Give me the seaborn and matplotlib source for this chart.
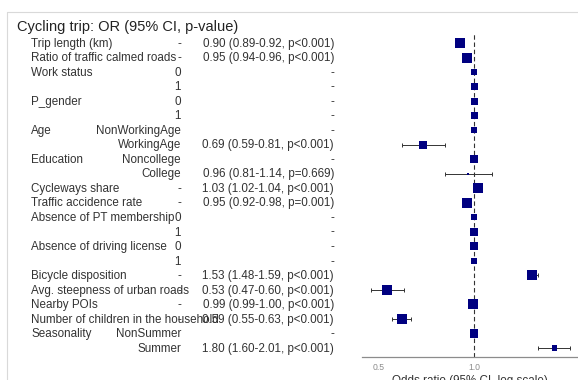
import numpy as np
import matplotlib
matplotlib.use("Agg")
import matplotlib.pyplot as plt
import matplotlib.transforms as mtransforms
from matplotlib.lines import Line2D
import pandas as pd
import seaborn as sns

# ---- data ---------------------------------------------------------------
labels = ["Trip length (km)", "Ratio of traffic calmed roads", "Work status", "",
          "P_gender", "", "Age", "", "Education", "", "Cycleways share",
          "Traffic accidence rate", "Absence of PT membership", "",
          "Absence of driving license", "", "Bicycle disposition",
          "Avg. steepness of urban roads", "Nearby POIs",
          "Number of children in the household", "Seasonality", ""]
levels = ["-", "-", "0", "1", "0", "1", "NonWorkingAge", "WorkingAge",
          "Noncollege", "College", "-", "-", "0", "1", "0", "1",
          "-", "-", "-", "-", "NonSummer", "Summer"]
odds = [0.90, 0.95, 1, 1, 1, 1, 1, 0.69, 1, 0.96, 1.03, 0.95,
        1, 1, 1, 1, 1.53, 0.53, 0.99, 0.59, 1, 1.80]
ci_low = [0.89, 0.94, None, None, None, None, None, 0.59, None, 0.81, 1.02, 0.92,
          None, None, None, None, 1.48, 0.47, 0.99, 0.55, None, 1.60]
ci_high = [0.92, 0.96, None, None, None, None, None, 0.81, None, 1.14, 1.04, 0.98,
           None, None, None, None, 1.59, 0.60, 1.00, 0.63, None, 2.01]
p_text = ["<0.001", "<0.001", None, None, None, None, None, "<0.001", None, "=0.669",
          "<0.001", "=0.001", None, None, None, None, "<0.001", "<0.001", "<0.001",
          "<0.001", None, "<0.001"]
# relative weight of each estimate (drives the square size)
weight = [10, 10, 6, 7, 7, 7, 6, 8, 8.5, 2, 9.5, 10, 6, 8, 7.7, 6,
          10, 10, 10, 10, 8.7, 5.3]

# ---- table --------------------------------------------------------------
df = pd.DataFrame({"label": labels, "level": levels, "OR": odds,
                   "lo": ci_low, "hi": ci_high, "p": p_text, "w": weight})
df["row"] = np.arange(1, len(df) + 1)
df["lo"] = df["lo"].astype(float)
df["hi"] = df["hi"].astype(float)


def fmt(r):
    if r["p"] is None:
        return "-"
    return f"{r['OR']:.2f} ({r['lo']:.2f}-{r['hi']:.2f}, p{r['p']})"


df["txt"] = df.apply(fmt, axis=1)

# ---- figure -------------------------------------------------------------
sns.set_style("white")
plt.rcParams["font.family"] = ["Liberation Sans", "DejaVu Sans"]

W, H = 578, 380
fig = plt.figure(figsize=(W / 100, H / 100), dpi=100)
fig.patch.set_facecolor("white")

# light frame along the top and left edges
fig.add_artist(Line2D([7 / W, 7 / W], [0, 1 - 12 / H], transform=fig.transFigure,
                      color="#d9d9d9", lw=0.8))
fig.add_artist(Line2D([7 / W, 1], [1 - 12 / H, 1 - 12 / H], transform=fig.transFigure,
                      color="#d9d9d9", lw=0.8))

ax_left, ax_right = 362, 578
ax_top, ax_bot = 33, 357
ax = fig.add_axes([ax_left / W, 1 - ax_bot / H, (ax_right - ax_left) / W,
                   (ax_bot - ax_top) / H])
ax.set_facecolor("none")

navy = "#000080"
ci = df.dropna(subset=["lo"])
ax.errorbar(ci["OR"], ci["row"],
            xerr=[ci["OR"] - ci["lo"], ci["hi"] - ci["OR"]],
            fmt="none", ecolor="#333333", elinewidth=0.7, capsize=1.6,
            capthick=0.7, zorder=2)
sns.scatterplot(data=df, x="OR", y="row", marker="s", color=navy,
                s=(df["w"] * 0.72) ** 2, linewidth=0, ax=ax, zorder=3,
                legend=False)
ax.axvline(1.0, color="#333333", lw=0.8, ls=(0, (4, 2.5)), zorder=1)

ax.set_xscale("log")
px_per_log = 95 / np.log(2)
ax.set_xlim(np.exp(np.log(0.5) - (379 - ax_left) / px_per_log),
            np.exp((ax_right - 474) / px_per_log))
step = (348 - 43) / 21
ax.set_ylim(22 + (ax_bot - 348) / step, 1 - (43 - ax_top) / step)

ax.set_xticks([0.5, 1.0])
ax.set_xticklabels(["0.5", "1.0"])
ax.minorticks_off()
ax.set_yticks([])
ax.set_ylabel("")
for s in ["left", "top", "right"]:
    ax.spines[s].set_visible(False)
ax.spines["bottom"].set_color("#8c8c8c")
ax.spines["bottom"].set_linewidth(0.9)
ax.tick_params(axis="x", length=2, width=0.6, color="#8c8c8c", pad=2,
               labelsize=6.2, labelcolor="#8c8c8c")
ax.set_xlabel("Odds ratio (95% CI, log scale)", fontsize=8.4, color="#333333",
              labelpad=2.5)

# ---- text columns -------------------------------------------------------
tr = mtransforms.blended_transform_factory(fig.transFigure, ax.transData)
txt_col = "#333333"
fs_lab, fs_val = 8.4, 8.4
for _, r in df.iterrows():
    ax.text(31 / W, r["row"] + 0.05, r["label"], transform=tr, ha="left",
            va="center", fontsize=fs_lab, color=txt_col, clip_on=False)
    ax.text(181 / W, r["row"] + 0.05, r["level"], transform=tr, ha="right",
            va="center", fontsize=fs_lab, color=txt_col, clip_on=False)
    ax.text(334 / W, r["row"] + 0.05, r["txt"], transform=tr, ha="right",
            va="center", fontsize=fs_val, color=txt_col, clip_on=False)

fig.text(17 / W, 1 - 27 / H, "Cycling trip: OR (95% CI, p-value)", ha="left",
         va="center", fontsize=10.5, color="#222222")

fig.savefig("out.png", dpi=100)
